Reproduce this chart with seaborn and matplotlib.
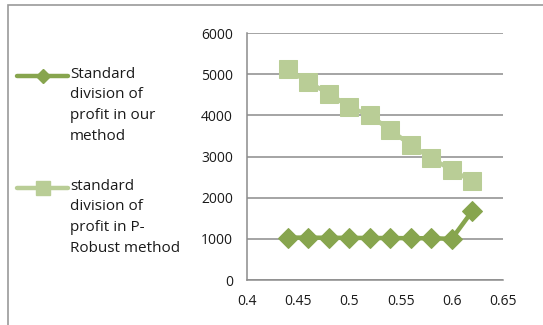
import matplotlib
matplotlib.use("Agg")
import matplotlib.pyplot as plt
import seaborn as sns
import pandas as pd
from matplotlib.lines import Line2D
from matplotlib.patches import Rectangle

x_vals = [0.44, 0.46, 0.48, 0.50, 0.52, 0.54, 0.56, 0.58, 0.60, 0.62]
our_method = [1030, 1030, 1025, 1025, 1020, 1020, 1015, 1015, 1000, 1675]
p_robust = [5120, 4800, 4530, 4200, 4000, 3640, 3280, 2960, 2670, 2400]
label_ours = "Standard\ndivision of\nprofit in our\nmethod"
label_robust = "standard\ndivision of\nprofit in P-\nRobust method"
x_ticks = [0.4, 0.45, 0.5, 0.55, 0.6, 0.65]
x_tick_labels = ["0.4", "0.45", "0.5", "0.55", "0.6", "0.65"]
y_ticks = [0, 1000, 2000, 3000, 4000, 5000, 6000]

sns.set_style("white")
plt.rcParams['font.family'] = ['Open Sans', 'DejaVu Sans']

c_dark = "#87A54E"
c_light = "#B9CD96"
grid_c = "#8C8C8C"

fig = plt.figure(figsize=(5.43, 3.25), dpi=100)
ax = fig.add_axes([247/543, 1 - 280/325, 256/543, 247/325])

df = pd.DataFrame({"x": x_vals, "ours": our_method, "robust": p_robust})
sns.lineplot(data=df, x="x", y="robust", ax=ax, color=c_light, lw=3.2,
             marker="s", markersize=13, markeredgecolor=c_light, zorder=3)
sns.lineplot(data=df, x="x", y="ours", ax=ax, color=c_dark, lw=3.2,
             marker="D", markersize=10.5, markeredgecolor=c_dark, zorder=4)

ax.set_xlim(0.4, 0.65)
ax.set_ylim(0, 6000)
ax.set_xticks(x_ticks)
ax.set_xticklabels(x_tick_labels)
ax.set_yticks(y_ticks)
ax.set_xlabel("")
ax.set_ylabel("")
ax.grid(axis="y", color=grid_c, lw=1.1)
ax.set_axisbelow(True)
for s in ["top", "right"]:
    ax.spines[s].set_visible(False)
for s in ["left", "bottom"]:
    ax.spines[s].set_color(grid_c)
    ax.spines[s].set_linewidth(1.1)
ax.tick_params(axis="both", direction="out", length=4, width=1.1, color=grid_c,
               labelsize=10, labelcolor="#1a1a1a", pad=6)

# outer frame of the chart area
fig.add_artist(Rectangle((8/543, -0.05), 1.1, 1 - 5/325 + 0.05, transform=fig.transFigure,
                         fill=False, edgecolor="#999999", lw=1.2))

# legend
def leg_entry(y_px, color, marker, ms, label):
    yf = 1 - y_px / 325
    fig.add_artist(Line2D([17/543, 68/543], [yf, yf], transform=fig.transFigure,
                          color=color, lw=3.2))
    fig.add_artist(Line2D([42.5/543], [yf], transform=fig.transFigure, color=color,
                          marker=marker, markersize=ms, markeredgecolor=color))
    fig.text(70/543, yf + 9/325, label, ha="left", va="top", fontsize=11,
             linespacing=1.5, color="#1a1a1a")

leg_entry(76, c_dark, "D", 7, label_ours)
leg_entry(188, c_light, "s", 10, label_robust)

fig.savefig("out.png", dpi=100)
